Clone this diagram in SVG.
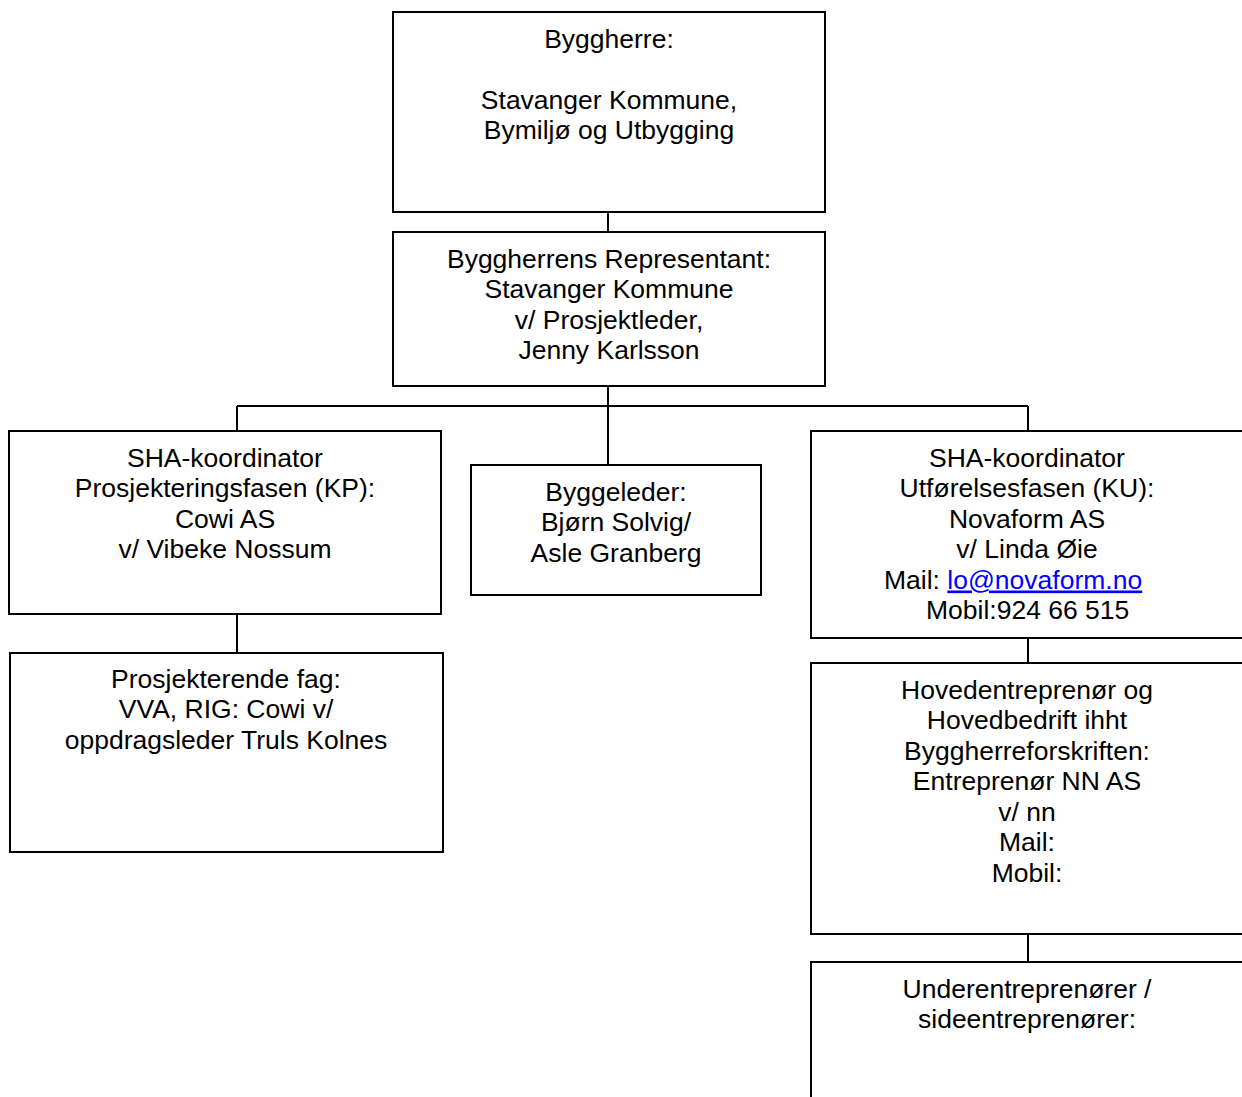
<svg xmlns="http://www.w3.org/2000/svg" width="1242" height="1097" viewBox="0 0 1242 1097">
<style>
.box{fill:#fff;stroke:#000;stroke-width:2}
.c{fill:none;stroke:#000;stroke-width:2}
text{font-family:"Liberation Sans",Arial,sans-serif;font-size:26.5px;fill:#000;text-anchor:middle}
.link{fill:#0000ff;text-decoration:underline}
</style>
<rect width="1242" height="1097" fill="#fff"/>
<g id="connectors">
<path class="c" d="M608 212V232"/>
<path class="c" d="M608 386V465"/>
<path class="c" d="M237 406H1028"/>
<path class="c" d="M237 406V431"/>
<path class="c" d="M1028 406V431"/>
<path class="c" d="M237 614V653"/>
<path class="c" d="M1028 638V663"/>
<path class="c" d="M1028 934V962"/>
</g>
<g id="byggherre">
<rect class="box" x="393" y="12" width="432" height="200"/>
<text x="609" y="47.5">Byggherre:</text>
<text x="609" y="108.5">Stavanger Kommune,</text>
<text x="609" y="139">Bymiljø og Utbygging</text>
</g>
<g id="representant">
<rect class="box" x="393" y="232" width="432" height="154"/>
<text x="609" y="267.5">Byggherrens Representant:</text>
<text x="609" y="298">Stavanger Kommune</text>
<text x="609" y="328.5">v/ Prosjektleder,</text>
<text x="609" y="359">Jenny Karlsson</text>
</g>
<g id="sha-kp">
<rect class="box" x="9" y="431" width="432" height="183"/>
<text x="225" y="466.5">SHA-koordinator</text>
<text x="225" y="497">Prosjekteringsfasen (KP):</text>
<text x="225" y="527.5">Cowi AS</text>
<text x="225" y="558">v/ Vibeke Nossum</text>
</g>
<g id="byggeleder">
<rect class="box" x="471" y="465" width="290" height="130"/>
<text x="616" y="500.5">Byggeleder:</text>
<text x="616" y="531">Bjørn Solvig/</text>
<text x="616" y="561.5">Asle Granberg</text>
</g>
<g id="sha-ku">
<rect class="box" x="811" y="431" width="434" height="207"/>
<text x="1027" y="466.5">SHA-koordinator</text>
<text x="1027" y="497">Utførelsesfasen (KU):</text>
<text x="1027" y="527.5">Novaform AS</text>
<text x="1027" y="558">v/ Linda Øie</text>
<text x="884" y="588.5" style="text-anchor:start">Mail: <tspan class="link">lo@novaform.no</tspan></text>
<text x="926" y="619" style="text-anchor:start">Mobil:924 66 515</text>
</g>
<g id="prosjekterende">
<rect class="box" x="10" y="653" width="433" height="199"/>
<text x="226" y="687.5">Prosjekterende fag:</text>
<text x="226" y="718">VVA, RIG: Cowi v/</text>
<text x="226" y="748.5">oppdragsleder Truls Kolnes</text>
</g>
<g id="hovedentreprenor">
<rect class="box" x="811" y="663" width="434" height="271"/>
<text x="1027" y="698.5">Hovedentreprenør og</text>
<text x="1027" y="729">Hovedbedrift ihht</text>
<text x="1027" y="759.5">Byggherreforskriften:</text>
<text x="1027" y="790">Entreprenør NN AS</text>
<text x="1027" y="820.5">v/ nn</text>
<text x="1027" y="851">Mail:</text>
<text x="1027" y="882">Mobil:</text>
</g>
<g id="underentreprenorer">
<rect class="box" x="811" y="962" width="434" height="200"/>
<text x="1027" y="997.5">Underentreprenører /</text>
<text x="1027" y="1028">sideentreprenører:</text>
</g>
</svg>
